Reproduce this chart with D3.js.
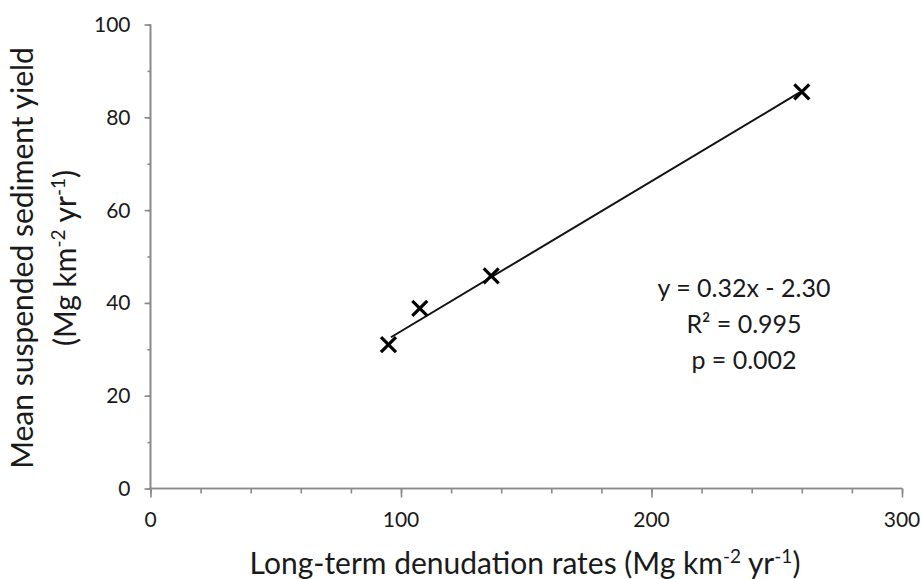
<!DOCTYPE html>
<html><head><meta charset="utf-8">
<script src="https://cdn.jsdelivr.net/npm/d3@7"></script>
<style>body{margin:0;background:#fff;} svg{display:block;}</style>
</head><body>
<script>
// Data
const denudation = [95, 107.5, 136, 260];
const sedimentYield = [31, 38.8, 45.8, 85.5];
const trendX = [96, 259];
const trendY = [32.6, 85.3];
const xTicks = [0, 100, 200, 300];
const yTicks = [0, 20, 40, 60, 80, 100];
const annotation = ["y = 0.32x - 2.30", "R² = 0.995", "p = 0.002"];

const W = 921, H = 579;
const font = "Lato, 'Open Sans', sans-serif";
const svg = d3.select("body").append("svg").attr("width", W).attr("height", H);

const x = d3.scaleLinear().domain([0, 300]).range([150.5, 902]);
const y = d3.scaleLinear().domain([0, 100]).range([488.5, 24.5]);
const axisColor = "#8a8a8a";

// minor ticks
const gx = svg.append("g").attr("transform", `translate(0,${y(0)})`);
gx.call(d3.axisBottom(x).tickValues(d3.range(0, 301, 20)).tickSize(5).tickFormat(""));
gx.append("g").call(d3.axisBottom(x).tickValues(xTicks).tickSize(9).tickFormat(""));
gx.selectAll("path,line").attr("stroke", axisColor).attr("stroke-width", 1.6);
gx.selectAll(".domain").attr("d", `M${x(0)},0H${x(300)}`);
gx.selectAll(".xl").data(xTicks).enter().append("text")
  .attr("x", d => x(d)).attr("y", 38.5).attr("text-anchor", "middle")
  .attr("font-family", font).attr("font-size", 21).attr("fill", "#1a1a1a").text(d => d);

const gy = svg.append("g").attr("transform", `translate(${x(0)},0)`);
gy.call(d3.axisLeft(y).tickValues(d3.range(0, 101, 10)).tickSize(3).tickFormat(""));
gy.append("g").call(d3.axisLeft(y).tickValues(yTicks).tickSize(6).tickFormat(""));
gy.selectAll("path,line").attr("stroke", axisColor).attr("stroke-width", 1.6);
gy.selectAll(".domain").attr("d", `M0,${y(0)}V${y(100)}`);
gy.selectAll(".yl").data(yTicks).enter().append("text")
  .attr("x", -20).attr("y", d => y(d)).attr("dy", "0.36em").attr("text-anchor", "end")
  .attr("font-family", font).attr("font-size", 21).attr("fill", "#1a1a1a").text(d => d);

// trend line
svg.append("line")
  .attr("x1", x(trendX[0])).attr("y1", y(trendY[0]))
  .attr("x2", x(trendX[1])).attr("y2", y(trendY[1]))
  .attr("stroke", "#111").attr("stroke-width", 2);

// markers
const s = 7.5;
const pts = svg.append("g").selectAll("g").data(denudation.map((d, i) => [d, sedimentYield[i]])).enter()
  .append("g").attr("transform", d => `translate(${x(d[0])},${y(d[1])})`);
pts.append("path").attr("d", `M${-s},${-s}L${s},${s}M${-s},${s}L${s},${-s}`)
  .attr("stroke", "#000").attr("stroke-width", 3.2);

// annotation
svg.append("g").selectAll("text").data(annotation).enter().append("text")
  .attr("x", 744).attr("y", (d, i) => 297 + i * 36).attr("text-anchor", "middle")
  .attr("font-family", font).attr("font-size", 25).attr("fill", "#1a1a1a").text(d => d);

// x title
const xt = svg.append("text").attr("x", 525).attr("y", 574).attr("text-anchor", "middle")
  .attr("font-family", font).attr("font-size", 30).attr("fill", "#1a1a1a");
xt.append("tspan").text("Long-term denudation rates (Mg km");
xt.append("tspan").attr("dy", -11).attr("font-size", 19).text("-2");
xt.append("tspan").attr("dy", 11).text(" yr");
xt.append("tspan").attr("dy", -11).attr("font-size", 19).text("-1");
xt.append("tspan").attr("dy", 11).text(")");

// y title
const yt = svg.append("g").attr("transform", "translate(33,258) rotate(-90)");
yt.append("text").attr("text-anchor", "middle")
  .attr("font-family", font).attr("font-size", 30).attr("fill", "#1a1a1a")
  .text("Mean suspended sediment yield");
const yt2 = yt.append("text").attr("y", 43).attr("text-anchor", "middle")
  .attr("font-family", font).attr("font-size", 30).attr("fill", "#1a1a1a");
yt2.append("tspan").text("(Mg km");
yt2.append("tspan").attr("dy", -11).attr("font-size", 19).text("-2");
yt2.append("tspan").attr("dy", 11).text(" yr");
yt2.append("tspan").attr("dy", -11).attr("font-size", 19).text("-1");
yt2.append("tspan").attr("dy", 11).text(")");
</script>
</body></html>
